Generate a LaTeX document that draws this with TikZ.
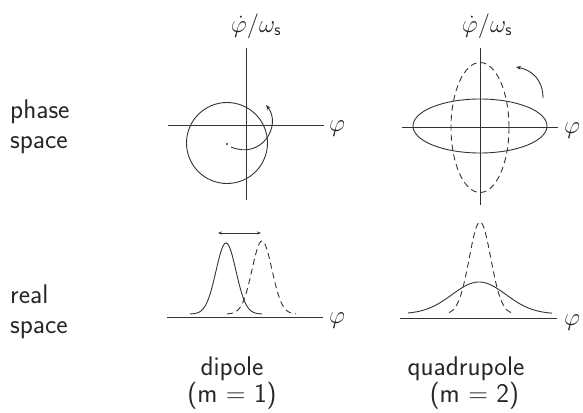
\documentclass[tikz,border=0pt]{standalone}
\usetikzlibrary{arrows.meta}
\begin{document}
\begin{tikzpicture}[x=1pt,y=-1pt,
  ln/.style={line width=0.9pt,draw=black!80},
  ax/.style={line width=0.7pt,draw=black!80},
  dsh/.style={ln,dash pattern=on 6pt off 4pt},
  lbl/.style={font=\sffamily\fontsize{27}{30}\selectfont,text=black!85,align=left,inner sep=0pt},
  sym/.style={font=\fontsize{27}{30}\selectfont,text=black!85,inner sep=0pt},
  tip/.style={-{Stealth[length=5pt,width=4pt]}}]
\useasboundingbox (0,0) rectangle (583,412);
% left column labels
\node[lbl,anchor=west] (ps) at (10,127) {phase\\space};
\node[lbl,anchor=west] (rs) at (10,312) {real\\space};
% ---------- dipole phase space
\coordinate (la1) at (168,125); \coordinate (la2) at (324,125);
\coordinate (lv1) at (246,48);  \coordinate (lv2) at (246,200);
\draw[ax] (la1) -- (la2);
\draw[ax] (lv1) -- (lv2);
\node[sym,anchor=west] (lphi) at (329,129) {$\varphi$};
\node[sym] (lyl) at (256,26) {$\dot\varphi/\omega_{\mathsf s}$};
\node[ln,circle,minimum size=81pt,inner sep=0pt] (lc) at (227,143) {};
\fill[black!80] (227,144) circle (1.1pt);
\coordinate (lr1) at (231,147); \coordinate (lr2) at (266,105);
\draw[ln,tip] (lr1) .. controls (262,160) and (282,125) .. (lr2);
% ---------- quadrupole phase space
\coordinate (ra1) at (402,127); \coordinate (ra2) at (558,127);
\coordinate (rv1) at (480,48);  \coordinate (rv2) at (480,205);
\draw[ax] (ra1) -- (ra2);
\draw[ax] (rv1) -- (rv2);
\node[sym,anchor=west] (rphi) at (564,131) {$\varphi$};
\node[sym] (ryl) at (487,26) {$\dot\varphi/\omega_{\mathsf s}$};
\draw[ln] (480,126) ellipse [x radius=67, y radius=27];
\draw[dsh] (480,127.5) ellipse [x radius=29, y radius=65];
\coordinate (rr1) at (543,98); \coordinate (rr2) at (516,67);
\draw[ln,tip] (rr1) .. controls (543,80) and (532,70) .. (rr2);
% ---------- dipole real space
\coordinate (lb1) at (167,317); \coordinate (lb2) at (323,317);
\draw[ax] (lb1) -- (lb2);
\node[sym,anchor=west] (lphi2) at (329,321) {$\varphi$};
\draw[ln] plot[domain=190:262,samples=80,smooth] (\x,{314-71*exp(-((\x-226)^2)/(2*10*10))});
\draw[dsh] plot[domain=227:296,samples=80,smooth] (\x,{314-73*exp(-((\x-262)^2)/(2*10*10))});
\coordinate (dl) at (218,233); \coordinate (dr) at (261,233);
\draw[ax,{Stealth[length=4pt,width=3pt]}-{Stealth[length=4pt,width=3pt]}] (dl) -- (dr);
% ---------- quadrupole real space
\coordinate (qb1) at (400,318); \coordinate (qb2) at (557,318);
\draw[ax] (qb1) -- (qb2);
\node[sym,anchor=west] (rphi2) at (564,323) {$\varphi$};
\draw[ln] plot[domain=408:552,samples=100,smooth] (\x,{314-32*exp(-((\x-479)^2)/(2*27*27))});
\draw[dsh] plot[domain=449:511,samples=80,smooth] (\x,{314-92*exp(-((\x-480)^2)/(2*10.8*10.8))});
% ---------- captions
\node[lbl,align=center] (dip) at (232,383) {dipole\\[-3pt](m = 1)};
\node[lbl,align=center] (quad) at (466,383) {quadrupole\\[-3pt]\ \ (m = 2)};
\end{tikzpicture}
\end{document}
